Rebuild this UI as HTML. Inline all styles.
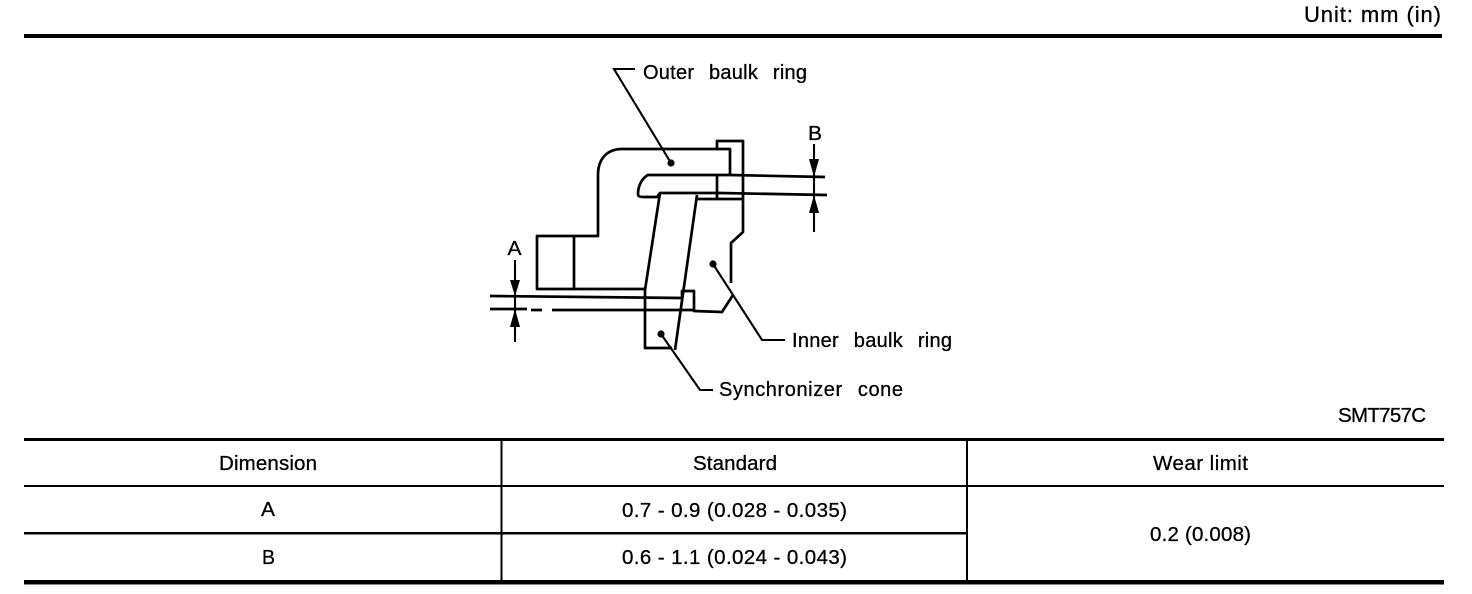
<!DOCTYPE html>
<html><head><meta charset="utf-8"><style>
html,body{margin:0;padding:0;background:#fff;width:1472px;height:594px;overflow:hidden}
svg{display:block}
text{font-family:"Liberation Sans",sans-serif;fill:#000;font-size:20.5px;stroke:#000;stroke-width:.3px}
.w{word-spacing:9px;font-size:20px}
</style></head><body>
<svg width="1472" height="594" viewBox="0 0 1472 594" xmlns="http://www.w3.org/2000/svg">
<rect width="1472" height="594" fill="#fff"/>
<!-- rules -->
<g fill="#000">
<rect x="24" y="34" width="1418" height="4"/>
<rect x="24" y="438" width="1420" height="3"/>
<rect x="24" y="485" width="1420" height="2"/>
<rect x="24" y="532" width="943" height="2.5"/>
<rect x="24" y="580" width="1420" height="4.5"/>
<rect x="500.5" y="439" width="2" height="142"/>
<rect x="966" y="439" width="2" height="142"/>
</g>
<!-- drawing -->
<g fill="none" stroke="#000" stroke-width="2.7" stroke-linejoin="round">
<path d="M730 175V149H622C606 149 598 160 598 175V236H537V289H645"/>
<path d="M574 236V289"/>
<path d="M717 149V141H743V232L731 243V283"/>
<path d="M717 175V199"/>
<path d="M825 177L730 175H648C642 178 638 186 638 194C638 197 641 197 645 197H657L660 193H720L827 195"/>
<path d="M697 199H743"/>
<path d="M660 193L645 290V348H672"/>
<path d="M697 195L675 350"/>
<path d="M490 296L682 298"/>
<path d="M490 309H527M531 310H542M552 310H694"/>
<path d="M682 298V291H694V311L722 312L733 295"/>
</g>
<!-- leaders -->
<g fill="none" stroke="#000" stroke-width="2.1">
<path d="M635 69H614L671 163"/>
<path d="M713 264L762 340H785"/>
<path d="M661 334L700 390H713"/>
<path d="M515 260V342"/>
<path d="M814 144V232"/>
</g>
<g fill="#000">
<circle cx="671" cy="163" r="3.600"/>
<circle cx="713" cy="264" r="3.600"/>
<circle cx="661" cy="334" r="3.600"/>
<path d="M510 280H520L515 296Z"/>
<path d="M510 327H520L515 309Z"/>
<path d="M809 159H819L814 177Z"/>
<path d="M809 213H819L814 195Z"/>
</g>
<!-- labels -->
<text x="1304" y="22" textLength="137" lengthAdjust="spacing" style="font-size:22px">Unit: mm (in)</text>
<text class="w" x="643" y="79" textLength="164" lengthAdjust="spacing">Outer baulk ring</text>
<text x="808" y="140" textLength="14" lengthAdjust="spacingAndGlyphs">B</text>
<text x="507.500" y="255" textLength="14" lengthAdjust="spacingAndGlyphs">A</text>
<text class="w" x="792" y="347" textLength="160" lengthAdjust="spacing">Inner baulk ring</text>
<text class="w" x="719" y="396" textLength="184" lengthAdjust="spacing">Synchronizer cone</text>
<text x="1338" y="422" textLength="88" lengthAdjust="spacing">SMT757C</text>
<text x="219" y="470" textLength="98" lengthAdjust="spacing">Dimension</text>
<text x="693" y="470" textLength="84" lengthAdjust="spacing">Standard</text>
<text x="1153" y="470" textLength="95" lengthAdjust="spacing">Wear limit</text>
<text x="261" y="516" textLength="14" lengthAdjust="spacingAndGlyphs">A</text>
<text x="622" y="517" textLength="225" lengthAdjust="spacing">0.7 - 0.9 (0.028 - 0.035)</text>
<text x="262" y="564" textLength="13" lengthAdjust="spacingAndGlyphs">B</text>
<text x="622" y="564" textLength="225" lengthAdjust="spacing">0.6 - 1.1 (0.024 - 0.043)</text>
<text x="1150" y="541" textLength="101" lengthAdjust="spacing">0.2 (0.008)</text>
</svg>
</body></html>
